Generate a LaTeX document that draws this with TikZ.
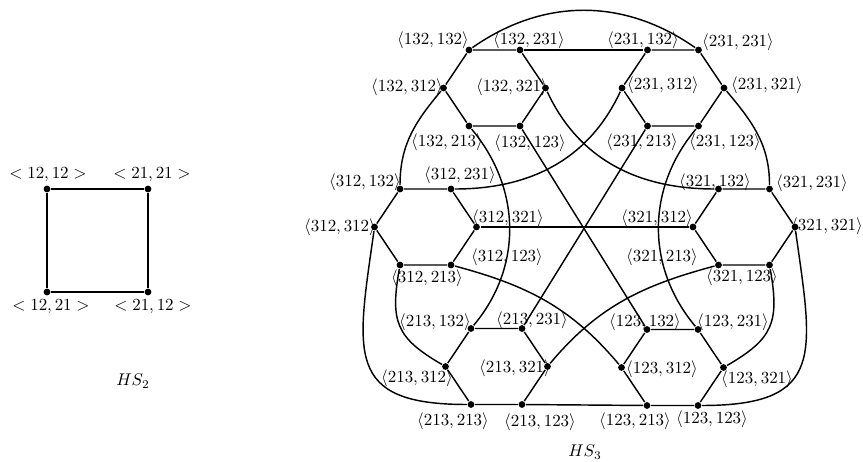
\documentclass[tikz,border=0pt]{standalone}
\usepackage{tikz}
\usepackage{amsmath}

\begin{document}
\begin{tikzpicture}[
    x=0.59pt, y=0.59pt, line width=0.85pt,
    vtx/.style={circle,fill=black,inner sep=0pt,minimum size=4pt},
    lbl/.style={inner sep=0pt}
]
\useasboundingbox (0,0) rectangle (863,461);

% HS_2
\node[vtx] (n12-12) at (47,272) {};
\node[vtx] (n21-21) at (148,272) {};
\node[vtx] (n12-21) at (47,169) {};
\node[vtx] (n21-12) at (148,169) {};
\draw (n12-12) -- (n21-21) -- (n21-12) -- (n12-21) -- (n12-12);
\node[lbl] (l12-12) at (48,286) {$<12,12>$};
\node[lbl] (l21-21) at (152,286) {$<21,21>$};
\node[lbl] (l12-21) at (51,154) {$<12,21>$};
\node[lbl] (l21-12) at (153,154) {$<21,12>$};
\node[lbl] (hs2) at (133,80) {$HS_2$};

% HS_3, hexagon 132
\node[vtx] (v132-132) at (469,411) {};
\node[vtx] (v132-231) at (520,411) {};
\node[vtx] (v132-312) at (443.5,373) {};
\node[vtx] (v132-321) at (545.5,373) {};
\node[vtx] (v132-213) at (469,335) {};
\node[vtx] (v132-123) at (520,335) {};
% hexagon 231
\node[vtx] (v231-132) at (647.5,411) {};
\node[vtx] (v231-231) at (698.5,411) {};
\node[vtx] (v231-312) at (622,373) {};
\node[vtx] (v231-321) at (724,373) {};
\node[vtx] (v231-213) at (647.5,335) {};
\node[vtx] (v231-123) at (698.5,335) {};
% hexagon 312
\node[vtx] (v312-132) at (400,272) {};
\node[vtx] (v312-231) at (451,272) {};
\node[vtx] (v312-312) at (374.5,234) {};
\node[vtx] (v312-321) at (476.5,234) {};
\node[vtx] (v312-213) at (400,196) {};
\node[vtx] (v312-123) at (451,196) {};
% hexagon 321
\node[vtx] (v321-132) at (718.5,272) {};
\node[vtx] (v321-231) at (769.5,272) {};
\node[vtx] (v321-312) at (693,234) {};
\node[vtx] (v321-321) at (795,234) {};
\node[vtx] (v321-213) at (718.5,196) {};
\node[vtx] (v321-123) at (769.5,196) {};
% hexagon 213
\node[vtx] (v213-132) at (471,132.5) {};
\node[vtx] (v213-231) at (522,132.5) {};
\node[vtx] (v213-312) at (445.5,94.5) {};
\node[vtx] (v213-321) at (547.5,94.5) {};
\node[vtx] (v213-213) at (471,56.5) {};
\node[vtx] (v213-123) at (522,56.5) {};
% hexagon 123
\node[vtx] (v123-132) at (647,131.5) {};
\node[vtx] (v123-231) at (698,131.5) {};
\node[vtx] (v123-312) at (621.5,93.5) {};
\node[vtx] (v123-321) at (723.5,93.5) {};
\node[vtx] (v123-213) at (647,55.5) {};
\node[vtx] (v123-123) at (698,55.5) {};

% labels
\node[lbl] (l132-132) at (433,421) {$\langle 132, 132\rangle$};
\node[lbl] (l132-231) at (529,421) {$\langle 132, 231\rangle$};
\node[lbl] (l132-312) at (407,374) {$\langle 132, 312\rangle$};
\node[lbl] (l132-321) at (512,374) {$\langle 132, 321\rangle$};
\node[lbl] (l132-213) at (447,319) {$\langle 132, 213\rangle$};
\node[lbl] (l132-123) at (530,318) {$\langle 132, 123\rangle$};
\node[lbl] (l231-132) at (643,421) {$\langle 231, 132\rangle$};
\node[lbl] (l231-231) at (738,419) {$\langle 231, 231\rangle$};
\node[lbl] (l231-312) at (663,376) {$\langle 231, 312\rangle$};
\node[lbl] (l231-321) at (767,376) {$\langle 231, 321\rangle$};
\node[lbl] (l231-213) at (642,319) {$\langle 231, 213\rangle$};
\node[lbl] (l231-123) at (725,319) {$\langle 231, 123\rangle$};
\node[lbl] (l312-132) at (365,279) {$\langle 312, 132\rangle$};
\node[lbl] (l312-231) at (460,286) {$\langle 312, 231\rangle$};
\node[lbl] (l312-312) at (340,234) {$\langle 312, 312\rangle$};
\node[lbl] (l312-321) at (508,243) {$\langle 312, 321\rangle$};
\node[lbl] (l312-123) at (507,204) {$\langle 312, 123\rangle$};
\node[lbl] (l312-213) at (427,183) {$\langle 312, 213\rangle$};
\node[lbl] (l321-132) at (715,279) {$\langle 321, 132\rangle$};
\node[lbl] (l321-231) at (812,278) {$\langle 321, 231\rangle$};
\node[lbl] (l321-312) at (657,243) {$\langle 321, 312\rangle$};
\node[lbl] (l321-321) at (827,235) {$\langle 321, 321\rangle$};
\node[lbl] (l321-213) at (662,204) {$\langle 321, 213\rangle$};
\node[lbl] (l321-123) at (742,184) {$\langle 321, 123\rangle$};
\node[lbl] (l213-132) at (435,139) {$\langle 213, 132\rangle$};
\node[lbl] (l213-231) at (532,141) {$\langle 213, 231\rangle$};
\node[lbl] (l213-312) at (417,83) {$\langle 213, 312\rangle$};
\node[lbl] (l213-321) at (515,93) {$\langle 213, 321\rangle$};
\node[lbl] (l213-213) at (453,40) {$\langle 213, 213\rangle$};
\node[lbl] (l213-123) at (540,39) {$\langle 213, 123\rangle$};
\node[lbl] (l123-132) at (645,139) {$\langle 123, 132\rangle$};
\node[lbl] (l123-231) at (733,139) {$\langle 123, 231\rangle$};
\node[lbl] (l123-312) at (662,92) {$\langle 123, 312\rangle$};
\node[lbl] (l123-321) at (757,82) {$\langle 123, 321\rangle$};
\node[lbl] (l123-213) at (635,40) {$\langle 123, 213\rangle$};
\node[lbl] (l123-123) at (712,42) {$\langle 123, 123\rangle$};
\node[lbl] (hs3) at (585,9) {$HS_3$};

% hexagons
\draw (v132-132) -- (v132-231) -- (v132-321) -- (v132-123) -- (v132-213) -- (v132-312) -- (v132-132);
\draw (v231-132) -- (v231-231) -- (v231-321) -- (v231-123) -- (v231-213) -- (v231-312) -- (v231-132);
\draw (v312-132) -- (v312-231) -- (v312-321) -- (v312-123) -- (v312-213) -- (v312-312) -- (v312-132);
\draw (v321-132) -- (v321-231) -- (v321-321) -- (v321-123) -- (v321-213) -- (v321-312) -- (v321-132);
\draw (v213-132) -- (v213-231) -- (v213-321) -- (v213-123) -- (v213-213) -- (v213-312) -- (v213-132);
\draw (v123-132) -- (v123-231) -- (v123-321) -- (v123-123) -- (v123-213) -- (v123-312) -- (v123-132);

% links between hexagons
\draw (v132-132) to[out=35,in=145] (v231-231);
\draw (v132-231) -- (v231-132);
\draw (v132-312) to[out=230,in=90] (v312-132);
\draw (v231-321) to[out=-50,in=90] (v321-231);
\draw (v132-321) to[out=-65,in=180] (v321-132);
\draw (v231-312) to[out=245,in=0] (v312-231);
\draw (v132-213) to[out=-50,in=50] (v213-132);
\draw (v231-123) to[out=230,in=130] (v123-231);
\draw (v132-123) -- (v123-132);
\draw (v231-213) -- (v213-231);
\draw (v312-321) -- (v321-312);
\draw (v312-312) to[out=262,in=180,looseness=1.6] (v213-213);
\draw (v321-321) to[out=-82,in=0,looseness=1.6] (v123-123);
\draw (v312-213) to[out=260,in=150,looseness=1.3] (v213-312);
\draw (v321-123) to[out=-80,in=30,looseness=1.3] (v123-321);
\draw (v312-123) to[out=-15,in=130] (v123-312);
\draw (v321-213) to[out=195,in=50] (v213-321);
\draw (v213-123) -- (v123-213);
\end{tikzpicture}
\end{document}
